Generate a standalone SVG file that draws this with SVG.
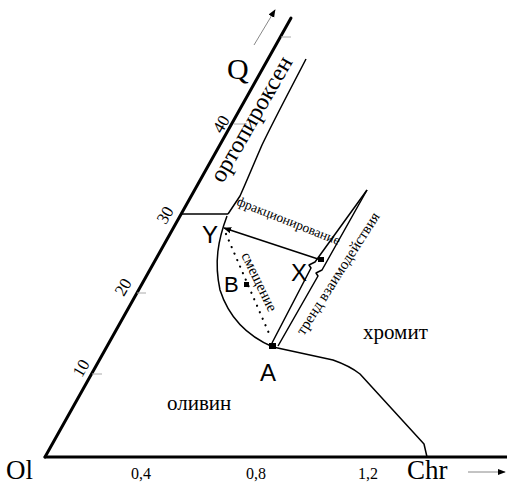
<svg xmlns="http://www.w3.org/2000/svg" width="507" height="486" viewBox="0 0 507 486">
<defs>
<style>
.axis{stroke:#000;stroke-width:3;fill:none;stroke-linecap:round}
.bd{stroke:#000;stroke-width:1.5;fill:none;stroke-linejoin:round}
.tick{stroke:#aaa;stroke-width:1;fill:none}
.ser{font-family:"Liberation Serif","Times New Roman",serif;fill:#000}
.sans{font-family:"Liberation Sans",Arial,sans-serif;fill:#000}
</style>
<marker id="ah" viewBox="0 0 10 10" refX="9" refY="5" markerWidth="8" markerHeight="8" orient="auto" markerUnits="userSpaceOnUse">
<path d="M0,1 L10,5 L0,9 z" fill="#000"/>
</marker>
</defs>
<rect width="507" height="486" fill="#fff"/>
<g id="axes">
<line class="axis" x1="45" y1="457" x2="291" y2="18"/>
<line class="axis" x1="45" y1="457" x2="507" y2="457"/>
<line class="tick" x1="92" y1="374" x2="102" y2="374"/>
<line class="tick" x1="137" y1="293" x2="146" y2="293"/>
<line class="tick" x1="234" y1="124" x2="247" y2="124"/>
<line class="tick" x1="281" y1="37" x2="291" y2="37"/>
<line stroke="#888" stroke-width="1" x1="254" y1="45" x2="275" y2="10" marker-end="url(#ah)"/>
<line stroke="#888" stroke-width="1" x1="468" y1="472" x2="505" y2="472" marker-end="url(#ah)"/>
</g>
<g id="labels">
<text class="ser" x="227" y="79" font-size="30">Q</text>
<text class="ser" x="6" y="479" font-size="27">Ol</text>
<text class="ser" x="407" y="479" font-size="27">Chr</text>
<text class="ser" x="141" y="479" font-size="16" text-anchor="middle">0,4</text>
<text class="ser" x="256" y="479" font-size="16" text-anchor="middle">0,8</text>
<text class="ser" x="368" y="479" font-size="16" text-anchor="middle">1,2</text>
<text class="ser" font-size="17" text-anchor="middle" transform="translate(86,371) rotate(-60)">10</text>
<text class="ser" font-size="17" text-anchor="middle" transform="translate(128,290) rotate(-60)">20</text>
<text class="ser" font-size="17" text-anchor="middle" transform="translate(170,218) rotate(-60)">30</text>
<text class="ser" font-size="17" text-anchor="middle" transform="translate(226,127) rotate(-60)">40</text>
<text class="ser" font-size="24" text-anchor="middle" transform="translate(258,123) rotate(-60)">ортопироксен</text>
<text class="ser" font-size="21" x="363" y="339">хромит</text>
<text class="ser" font-size="21" x="167" y="410">оливин</text>
<text class="ser" font-size="13.5" text-anchor="middle" transform="translate(287,225) rotate(21.6)">фракционирование</text>
<text class="ser" font-size="15" text-anchor="middle" transform="translate(255,284) rotate(64)">смещение</text>
<text class="ser" font-size="15" text-anchor="middle" transform="translate(342,276) rotate(-57.5)">тренд взаимодействия</text>
<text class="sans" font-size="24" x="260" y="381">A</text>
<text class="sans" font-size="22" x="224" y="292">B</text>
<text class="sans" font-size="24" x="202" y="243">Y</text>
<text class="sans" font-size="24" x="291" y="281">X</text>
</g>
<g id="boundaries">
<path class="bd" d="M306,59 C290,90 275,118 262,145 C252,168 245,185 240,196 L228,214"/>
<line class="bd" x1="182" y1="214" x2="228" y2="214"/>
<path class="bd" d="M227,216 C218,240 214,262 220,290 C228,315 245,335 273,347"/>
<path class="bd" d="M273,347 L333,360 Q350,366 360,374 L424,444 L427,457"/>
</g>
<g id="trend">
<path class="bd" d="M272,343 L311,268 L309,265 L315,262 L367,190"/>
<path class="bd" d="M278,346 L318,276 L316,273 L322,270 L367,190"/>
</g>
<g id="connectors">
<line stroke="#000" stroke-width="1.5" x1="318" y1="259" x2="224" y2="228" marker-end="url(#ah)"/>
<line stroke="#000" stroke-width="2.2" stroke-dasharray="0.1,7" stroke-linecap="round" x1="226" y1="234" x2="271" y2="338"/>
</g>
<g id="points">
<rect x="269" y="343" width="7" height="6" fill="#000"/>
<rect x="244" y="282" width="5" height="5" fill="#000"/>
<rect x="318" y="257" width="6" height="5" fill="#000"/>
</g>
</svg>
